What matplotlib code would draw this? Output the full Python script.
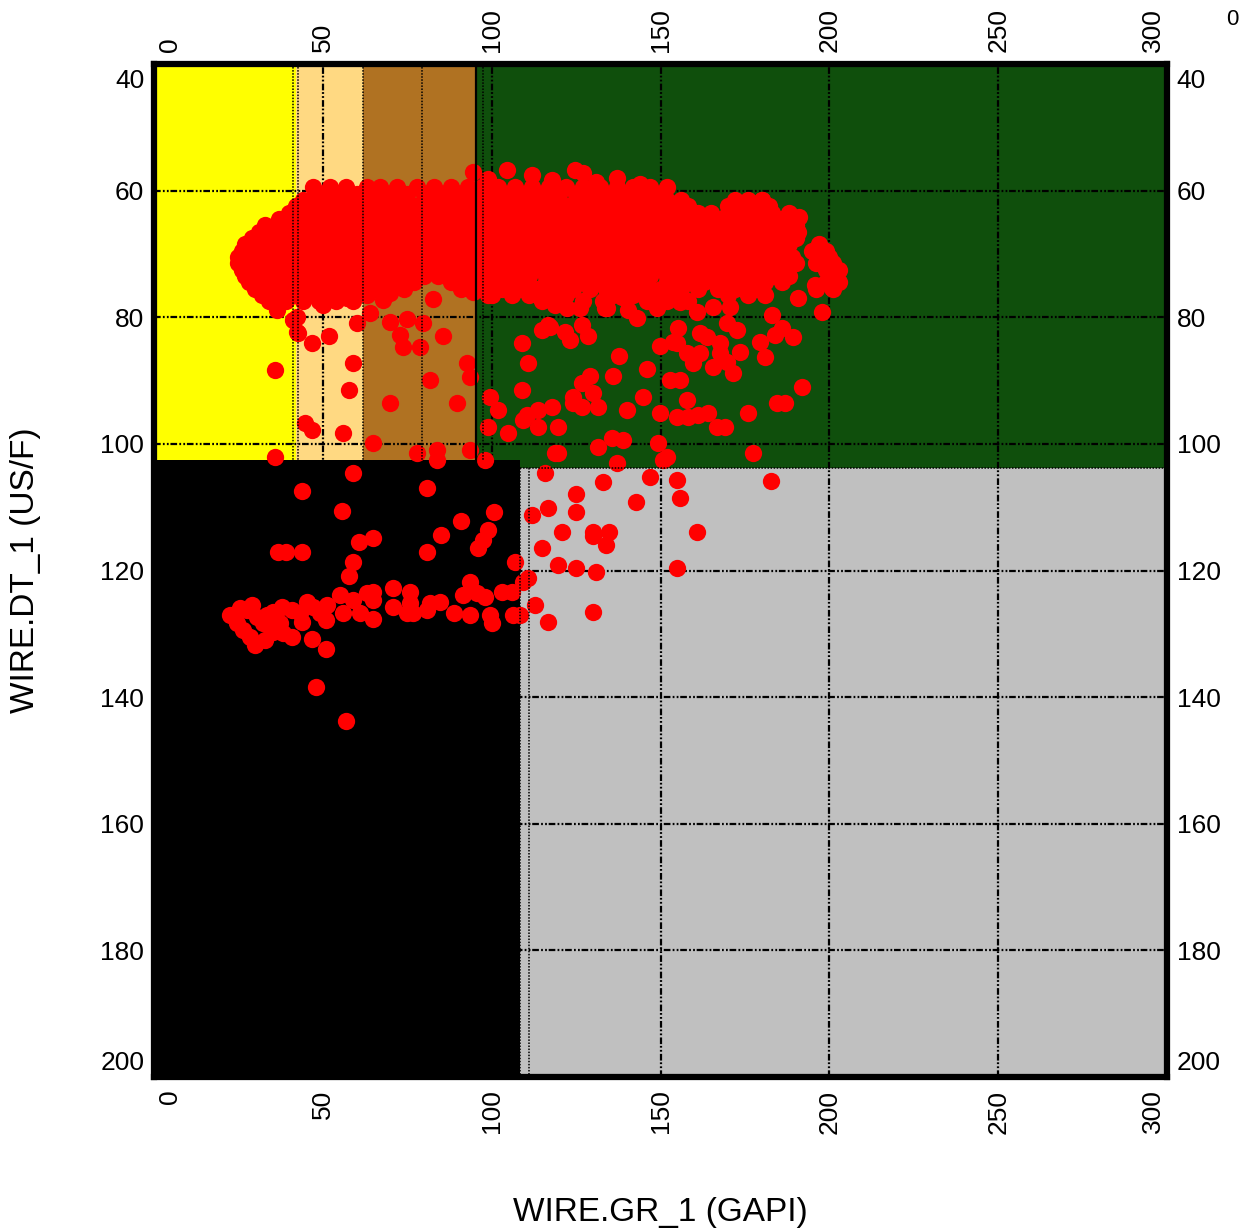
import matplotlib
matplotlib.use("Agg")
import matplotlib.pyplot as plt
from matplotlib.transforms import ScaledTranslation

plt.rcParams['font.family'] = ['Liberation Sans', 'DejaVu Sans']

# dense core of the cloud, read row by row (DT value, GR values along the row)
core_dt = [59.5, 61.5, 63.5, 65.5, 67.5, 69.5, 71.5, 73.5, 75.5, 77.5]
core_gr = [
    [47, 52, 57, 63, 67, 72, 78, 83, 88, 93, 97, 102, 107, 112, 117, 122, 127, 132, 137, 142, 147],
    [44, 48, 53, 57, 62, 66, 71, 75, 80, 84, 89, 93, 98, 102, 107, 111, 116, 120, 125, 129, 134,
     138, 143, 147, 152, 156, 172, 176, 180],
    [40, 44, 48, 53, 57, 62, 66, 71, 75, 80, 84, 89, 93, 98, 102, 107, 111, 116, 120, 125, 129,
     134, 138, 143, 147, 152, 156, 161, 165, 170, 174, 179, 183, 188],
    [33, 37, 41, 46, 50, 55, 59, 64, 68, 73, 77, 82, 86, 91, 95, 100, 104, 109, 113, 118, 122,
     127, 131, 136, 140, 145, 149, 154, 158, 163, 167, 172, 176, 181, 185, 190],
    [29, 33, 37, 42, 46, 51, 55, 60, 64, 69, 73, 78, 82, 87, 91, 96, 100, 105, 109, 114, 118,
     123, 127, 132, 136, 141, 145, 150, 154, 159, 163, 168, 172, 177, 181, 186, 190],
    [26, 30, 34, 39, 43, 48, 52, 57, 61, 66, 70, 75, 79, 84, 88, 93, 97, 102, 106, 111, 115,
     120, 124, 129, 133, 138, 142, 147, 151, 156, 160, 165, 169, 174, 178, 183, 187, 195, 199],
    [25, 29, 33, 37, 42, 46, 51, 55, 60, 64, 69, 73, 78, 82, 87, 91, 96, 100, 105, 109, 114,
     118, 123, 127, 132, 136, 141, 145, 150, 154, 159, 163, 168, 172, 177, 181, 186, 190, 196, 201],
    [27, 31, 35, 39, 44, 48, 53, 57, 62, 66, 71, 75, 80, 84, 89, 93, 98, 102, 107, 111, 116,
     120, 125, 129, 134, 138, 143, 147, 152, 156, 161, 165, 170, 174, 179, 183, 188, 202],
    [30, 34, 38, 43, 47, 52, 56, 61, 65, 70, 74, 91, 97, 103, 108, 113, 119, 124, 129, 134,
     139, 144, 150, 156, 161, 167, 172, 178, 196, 201],
    [34, 39, 44, 49, 54, 59, 115, 121, 127, 133, 146, 152, 158],
]

# in-between rows of the same core
mid_dt = [60.5, 62.5, 64.5, 66.5, 68.5, 70.5, 72.5, 74.5, 76.5]
mid_gr = [
    [50, 55, 60, 65, 70, 75, 80, 86, 91, 95, 100, 105, 110, 115, 120, 125, 130, 135, 140, 145, 150],
    [42, 46, 51, 55, 60, 64, 69, 73, 78, 82, 87, 91, 96, 100, 105, 109, 114, 118, 123, 127,
     132, 136, 141, 145, 150, 154, 158, 170, 174, 178, 182],
    [37, 42, 46, 51, 55, 60, 64, 69, 73, 78, 82, 87, 91, 96, 100, 105, 109, 114, 118, 123, 127,
     132, 136, 141, 145, 150, 154, 159, 163, 168, 172, 177, 181, 186],
    [31, 35, 39, 44, 48, 53, 57, 62, 66, 71, 75, 80, 84, 89, 93, 98, 102, 107, 111, 116, 120,
     125, 129, 134, 138, 143, 147, 152, 156, 161, 165, 170, 174, 179, 183, 188],
    [27, 31, 35, 40, 44, 49, 53, 58, 62, 67, 71, 76, 80, 85, 89, 94, 98, 103, 107, 112, 116,
     121, 125, 130, 134, 139, 143, 148, 152, 157, 161, 166, 170, 175, 179, 184, 188, 197],
    [25, 28, 32, 36, 41, 45, 50, 54, 59, 63, 68, 72, 77, 81, 86, 90, 95, 99, 104, 108, 113,
     117, 122, 126, 131, 135, 140, 144, 149, 153, 158, 162, 167, 171, 176, 180, 185, 189, 197, 200],
    [26, 30, 34, 38, 43, 47, 52, 56, 61, 65, 70, 74, 79, 83, 88, 92, 97, 101, 106, 110, 115,
     119, 124, 128, 133, 137, 142, 146, 151, 155, 160, 164, 169, 173, 178, 182, 187, 199, 203],
    [28, 32, 36, 41, 45, 50, 54, 59, 63, 68, 72, 77, 88, 94, 100, 105, 110, 116, 121, 126,
     131, 136, 141, 146, 152, 158, 163, 169, 175, 181, 186, 199],
    [32, 36, 41, 45, 50, 54, 59, 63, 68, 100, 106, 111, 117, 122, 136, 142, 148, 154, 170, 176],
]

# loose points around the edge of the cloud (GR, DT)
edge_pts = [
    (94.5, 57.1), (99, 58.2), (104.5, 56.7), (112, 57.5), (118, 58.3), (124.7, 56.7),
    (127, 57.2), (131, 58.6), (137, 58), (144, 59), (152, 59.4),
    (180, 61.5), (191, 64.2), (190.7, 66.5), (198, 70.5), (201, 72.2), (203, 74.4),
    (195.7, 74.9), (200.8, 75.4), (197.8, 79.2), (190.7, 77), (183, 79.6), (181, 76.5),
    (175.9, 75.4), (170.6, 78.4), (165.5, 78.4), (160.8, 79.2), (155.8, 77.6), (149, 78.5),
    (143, 80.1), (138.6, 76.8), (133.5, 78.5), (126.1, 78.5), (122.3, 78.5), (118.7, 78),
    (114.3, 76.8), (109, 75.2), (104.8, 73.6), (140.4, 78.9),
]

# scattered points in the sand / shaly zones (upper left)
sand_pts = [
    (36.4, 78.9), (41.2, 80.4), (42.3, 82.3), (36.4, 78.4), (42.3, 80), (50, 78.1),
    (57.1, 77), (67.8, 77.3), (69.9, 76.2), (64, 79.4), (69.9, 80.8), (74.9, 80.3),
    (79.7, 80.9), (82.6, 77.1), (72.8, 82.8), (73.7, 84.7), (78.8, 84.7), (85.6, 83),
    (60.1, 80.9), (51.8, 83), (46.8, 84), (42.6, 82.5), (94.5, 76), (98.9, 76.5),
    (35.8, 88.3), (58.9, 87.2), (57.7, 91.5), (44.7, 96.7), (46.8, 97.8), (56, 98.3),
    (35.8, 102.1), (64.9, 99.9), (69.9, 93.6), (81.7, 89.9), (89.7, 93.6), (92.7, 87.2),
    (93.6, 89.4), (77.9, 101.5), (83.8, 101), (83.8, 102.6), (93.6, 101), (98, 102.6),
    (99.5, 92.6), (101.9, 94.7), (98.9, 97.3), (104.8, 98.3),
]

# scattered points in the shale zone (upper right)
shale_pts = [
    (109, 91.5), (110.8, 87.2), (109, 84), (114.9, 82), (117.3, 81.5), (116.7, 81.2),
    (121.7, 82.3), (123.2, 83.6), (126.7, 81.2), (128.5, 83), (134.1, 78.5), (137.7, 86.1),
    (146, 88.2), (149.8, 84.5), (135.9, 89.3), (129.1, 89.3), (126.7, 90.4), (130, 92),
    (124, 92.6), (124, 93.6), (126.7, 94.2), (131.5, 94.2), (117.9, 94.2), (113.7, 94.7),
    (110.5, 95.5), (109.3, 96.2), (113.7, 97.3), (119.6, 97.3), (140, 94.7), (144.8, 92.6),
    (149.8, 95.1), (154.9, 95.8), (157.8, 93.1), (158.1, 95.8), (161.1, 95.5), (164, 95.1),
    (166.7, 97.3), (169.1, 97.3), (175.9, 95.1), (184.5, 93.6), (186.9, 93.6), (191.9, 91),
    (131.5, 100.5), (135.6, 99.1), (138.9, 99.4), (137.1, 103), (149.2, 99.9), (151.9, 102.1),
    (119.6, 101.5), (118.7, 101.5), (177.4, 101.5), (155.2, 81.7), (154.9, 84), (157.8, 85.7),
    (159.6, 87.2), (161.7, 85.7), (165.5, 87.8), (169.7, 87), (171.5, 88.8), (152.8, 89.9),
    (155.8, 89.9), (161.7, 82.5), (163.8, 83.1), (167.6, 84), (169.7, 80.9), (172.6, 82),
    (173.5, 85.5), (167.6, 85.7), (179.4, 83.9), (183.9, 82.8), (186, 81.7), (189.2, 83.1),
    (180.9, 86.3), (153.7, 83.9),
]

# points below ~DT 103 (black and grey zones)
deep_pts = [
    (115.8, 104.6), (150.7, 102.6), (146.9, 105.2), (154.9, 105.7), (155.8, 108.6),
    (182.7, 105.9), (133, 106), (125, 107.9), (142.7, 109.2), (125, 110.8), (116.7, 110.2),
    (111.9, 111.3), (120.8, 113.9), (130, 113.9), (130, 114.6), (134.7, 113.9), (133.8, 116),
    (114.9, 116.5), (160.8, 113.9), (119.6, 119.1), (125, 119.6), (130.9, 120.3),
    (154.9, 119.6), (110.8, 121.2), (109.3, 121.8), (106.9, 118.7), (112.8, 125.5),
    (130, 126.6), (116.7, 128.2), (108.4, 127), (106.3, 127),
    (100.7, 110.8), (98.9, 113.6), (97.4, 115.2), (95.9, 116.5), (93.6, 121.8), (95.6, 123.6),
    (98, 124.2), (103, 123.4), (106, 123.4), (93.6, 127), (99.5, 127), (100.1, 128.3),
    (43.8, 107.5), (80.8, 107), (55.7, 110.6), (90.9, 112.2), (85, 114.4), (80.8, 117.1),
    (60.7, 115.5), (64.9, 114.9), (36.7, 117.1), (39.1, 117.1), (43.8, 117.1), (58.9, 118.7),
    (57.7, 120.9), (58.9, 104.6), (91.5, 123.9), (88.8, 126.7), (84.7, 125), (81.7, 125.1),
    (80.8, 126.2), (75.8, 123.4), (75.8, 125.1), (76.7, 126.7), (74.9, 126.7), (70.8, 122.8),
    (70.8, 125.8), (64.9, 123.4), (63, 123.6), (64.9, 124.7), (64.9, 127.7), (61, 126.7),
    (55.1, 123.9), (56, 126.7), (58.9, 124.7), (50.9, 127.8), (51.2, 125.5), (45.3, 125),
    (47.1, 125.8), (43.8, 128.2), (40.9, 126.2), (37.9, 125.8), (35.2, 126.6), (33.5, 127),
    (29, 125.5), (27.5, 126.2), (25.5, 125.9), (22.5, 127), (24.6, 128.3), (26.4, 129.4),
    (28.4, 130.5), (29.9, 131.8), (32.9, 131), (35.2, 129.7), (38.2, 129.9), (40.9, 130.5),
    (37.3, 128.3), (32.3, 128.3), (30.5, 127.4), (46.8, 130.8), (50.9, 132.4), (48, 138.4),
    (56.9, 143.8), (49.2, 126.7), (43.2, 126.7),
]

# lithology zones: GR range, DT range, colour
zone_gr_lo = [0, 42, 62, 95.5, 0, 108.5]
zone_gr_hi = [42, 62, 95.5, 300, 108.5, 300]
zone_dt_top = [40, 40, 40, 40, 102.6, 103.8]
zone_dt_bot = [102.6, 102.6, 102.6, 103.8, 200, 200]
zone_colors = ["#FFFF00", "#FFD982", "#B07222", "#0F4F0C", "#000000", "#C0C0C0"]

# dotted zone edges
upper_edges = [41.2, 42.6, 61.9, 79.4, 97.5]
lower_edges = [108.4, 111]
shale_edge = 95.5

x_ticks = [0, 50, 100, 150, 200, 250, 300]
y_ticks = [40, 60, 80, 100, 120, 140, 160, 180, 200]

gr = []
dt = []
for row_dt, row_gr in list(zip(core_dt, core_gr)) + list(zip(mid_dt, mid_gr)):
    gr += row_gr
    dt += [row_dt] * len(row_gr)
for pts in [edge_pts, sand_pts, shale_pts, deep_pts]:
    gr += [p[0] for p in pts]
    dt += [p[1] for p in pts]

fig = plt.figure(figsize=(12.46, 12.31), dpi=100)
ax = fig.add_axes([0.1236, 0.1251, 0.8130, 0.8229])

for lo, hi, top, bot, c in zip(zone_gr_lo, zone_gr_hi, zone_dt_top, zone_dt_bot, zone_colors):
    ax.fill_between([lo, hi], top, bot, color=c, linewidth=0, zorder=0.2)

ax.set_xlim(0, 300)
ax.set_ylim(200, 40)
ax.set_xticks(x_ticks)
ax.set_yticks(y_ticks)

ax.set_axisbelow(True)
ax.grid(True, color="black", linewidth=1.6, linestyle=(0, (3, 1, 0.8, 1, 0.8, 0.8)))

ax.scatter(gr, dt, s=155, color="#FF0000", linewidths=0, zorder=2)

for x in upper_edges:
    ax.plot([x, x], [40, 102.6], color="black", linewidth=1.1, linestyle=(0, (1, 1)), zorder=3)
for x in lower_edges:
    ax.plot([x, x], [103.8, 200], color="black", linewidth=1.1, linestyle=(0, (1, 1)), zorder=3)
ax.plot([108.4, 300], [103.8, 103.8], color="black", linewidth=1.1, linestyle=(0, (1, 1)), zorder=3)
ax.plot([shale_edge, shale_edge], [40, 103], color="black", linewidth=1.6, zorder=3)

for side in ax.spines.values():
    side.set_linewidth(4.5)
    side.set_zorder(5)

ax.tick_params(axis="both", which="both", length=0, labelsize=19,
               top=True, labeltop=True, right=True, labelright=True)
ax.tick_params(axis="x", labelrotation=90, pad=9)
ax.tick_params(axis="y", pad=7)

# nudge end labels inside, as in the original
dpi_tr = fig.dpi_scale_trans
xt = ax.xaxis.get_major_ticks()
yt = ax.yaxis.get_major_ticks()
for lab in [xt[0].label1, xt[0].label2]:
    lab.set_transform(lab.get_transform() + ScaledTranslation(0.16, 0, dpi_tr))
for lab in [xt[-1].label1, xt[-1].label2]:
    lab.set_transform(lab.get_transform() + ScaledTranslation(-0.14, 0, dpi_tr))
for lab in [yt[0].label1, yt[0].label2]:
    lab.set_transform(lab.get_transform() + ScaledTranslation(0, -0.14, dpi_tr))
for lab in [yt[-1].label1, yt[-1].label2]:
    lab.set_transform(lab.get_transform() + ScaledTranslation(0, 0.17, dpi_tr))

ax.set_xlabel("WIRE.GR_1 (GAPI)", fontsize=24, va="center")
ax.set_ylabel("WIRE.DT_1 (US/F)", fontsize=24, va="center")
ax.xaxis.set_label_coords(0.5, -0.1333)
ax.yaxis.set_label_coords(-0.127, 0.5)

fig.text(0.989, 0.984, "0", fontsize=16, ha="center", va="center")

plt.savefig("out.png", dpi=100)
